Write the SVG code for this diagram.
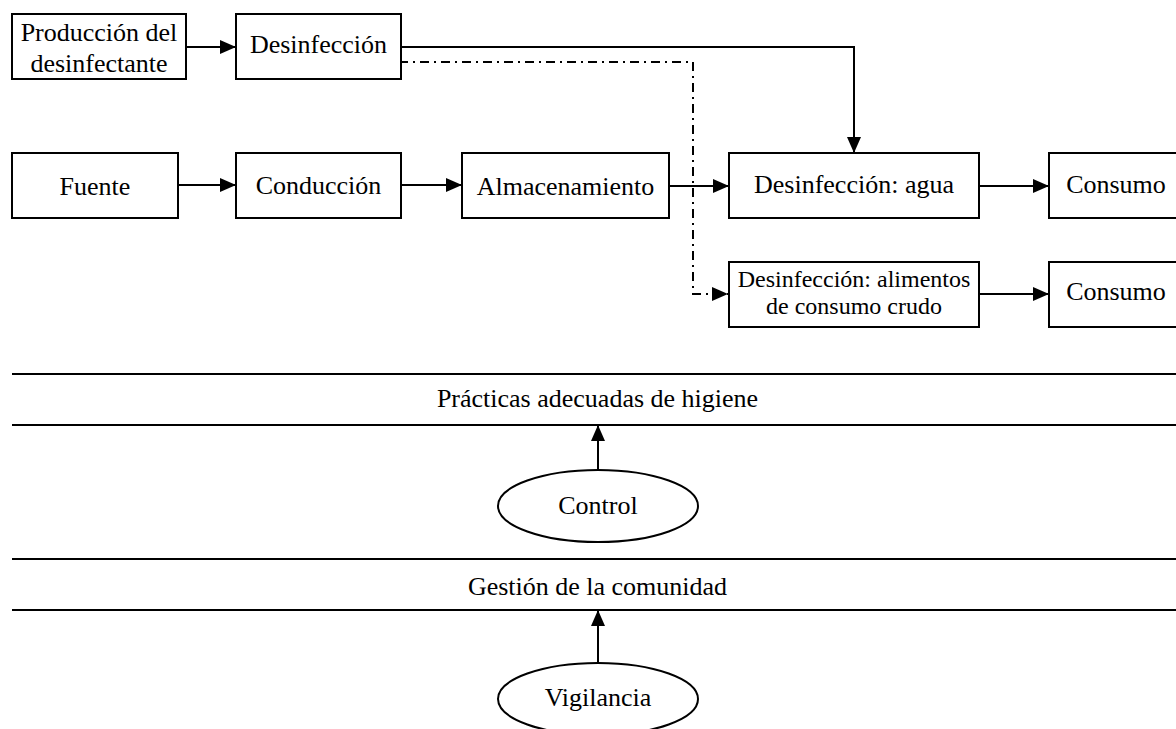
<svg xmlns="http://www.w3.org/2000/svg" width="1176" height="729" viewBox="0 0 1176 729">
<style>
.box{fill:#fff;stroke:#000;stroke-width:2}
.t{font-family:"Liberation Serif","Times New Roman",serif;font-size:26px;fill:#000;text-anchor:middle}
.ts{font-family:"Liberation Serif","Times New Roman",serif;font-size:24px;fill:#000;text-anchor:middle}
.c{fill:none;stroke:#000;stroke-width:2}
.dd{fill:none;stroke:#000;stroke-width:2;stroke-dasharray:9 5 2 5}
.band{stroke:#000;stroke-width:2}
</style>
<defs>
<marker id="ah" markerUnits="userSpaceOnUse" markerWidth="16" markerHeight="14" refX="16" refY="7" orient="auto">
<path d="M0,0 L16,7 L0,14 z" fill="#000"/>
</marker>
</defs>
<rect width="1176" height="729" fill="#fff"/>
<g id="connectors">
<line class="c" x1="186" y1="47" x2="236" y2="47" marker-end="url(#ah)"/>
<polyline class="c" points="401,47 854,47 854,153" marker-end="url(#ah)"/>
<polyline class="dd" points="399,62 693,62 693,294 728,294" marker-end="url(#ah)"/>
<line class="c" x1="178" y1="185" x2="236" y2="185" marker-end="url(#ah)"/>
<line class="c" x1="401" y1="185" x2="462" y2="185" marker-end="url(#ah)"/>
<line class="c" x1="669" y1="186" x2="729" y2="186" marker-end="url(#ah)"/>
<line class="c" x1="979" y1="186" x2="1049" y2="186" marker-end="url(#ah)"/>
<line class="c" x1="979" y1="294" x2="1049" y2="294" marker-end="url(#ah)"/>
<line class="c" x1="598" y1="470" x2="598" y2="425" marker-end="url(#ah)"/>
<line class="c" x1="598" y1="663" x2="598" y2="610" marker-end="url(#ah)"/>
</g>
<g id="produccion"><rect class="box" x="12" y="14" width="174" height="65"/><text class="t" x="99" y="41">Producción del</text><text class="t" x="99" y="72">desinfectante</text></g>
<g id="desinfeccion"><rect class="box" x="236" y="14" width="165" height="65"/><text class="t" x="318.5" y="53">Desinfección</text></g>
<g id="fuente"><rect class="box" x="12" y="153" width="166" height="65"/><text class="t" x="95" y="195">Fuente</text></g>
<g id="conduccion"><rect class="box" x="236" y="153" width="165" height="65"/><text class="t" x="318.5" y="194">Conducción</text></g>
<g id="almacenamiento"><rect class="box" x="462" y="153" width="207" height="65"/><text class="t" x="565.5" y="195">Almacenamiento</text></g>
<g id="desinf-agua"><rect class="box" x="729" y="153" width="250" height="65"/><text class="t" x="854" y="193">Desinfección: agua</text></g>
<g id="consumo1"><rect class="box" x="1049" y="153" width="140" height="65"/><text class="t" x="1116" y="193">Consumo</text></g>
<g id="desinf-alimentos"><rect class="box" x="729" y="262" width="250" height="65"/><text class="ts" x="854" y="287">Desinfección: alimentos</text><text class="ts" x="854" y="314">de consumo crudo</text></g>
<g id="consumo2"><rect class="box" x="1049" y="262" width="140" height="65"/><text class="t" x="1116" y="300">Consumo</text></g>
<g id="practicas"><line class="band" x1="12" y1="374" x2="1176" y2="374"/><line class="band" x1="12" y1="425" x2="1176" y2="425"/><text class="t" x="597.5" y="407">Prácticas adecuadas de higiene</text></g>
<g id="control"><ellipse class="box" cx="598" cy="506" rx="100" ry="36"/><text class="t" x="598" y="514">Control</text></g>
<g id="gestion"><line class="band" x1="12" y1="559" x2="1176" y2="559"/><line class="band" x1="12" y1="610" x2="1176" y2="610"/><text class="t" x="597.5" y="595">Gestión de la comunidad</text></g>
<g id="vigilancia"><ellipse class="box" cx="598" cy="699" rx="100" ry="36"/><text class="t" x="598" y="706">Vigilancia</text></g>
</svg>
